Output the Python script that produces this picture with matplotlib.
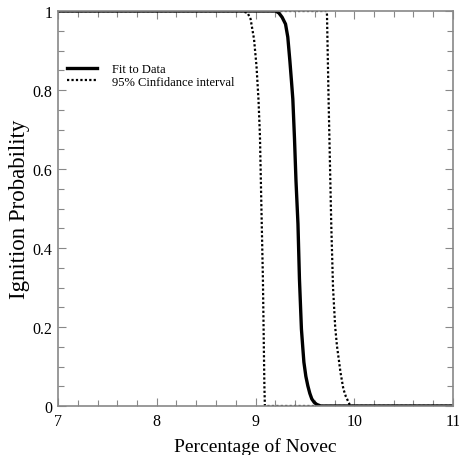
import numpy as np
import matplotlib.pyplot as plt
from matplotlib.ticker import MultipleLocator

# データ
fit_x = [7.0, 9.15, 9.204, 9.237, 9.27, 9.304, 9.327, 9.348, 9.365, 9.378,
         9.395, 9.41, 9.43, 9.445, 9.465, 9.48, 9.49, 9.51, 9.53, 9.55,
         9.57, 9.595, 9.62, 9.66, 11.0]
fit_y = [1.0, 1.0, 1.0, 0.995, 0.984, 0.967, 0.934, 0.874, 0.82, 0.777,
         0.676, 0.57, 0.461, 0.322, 0.195, 0.144, 0.111, 0.075, 0.051, 0.032,
         0.018, 0.009, 0.004, 0.0, 0.0]

low_x = [7.0, 8.86, 8.92, 8.95, 8.985, 9.01, 9.03, 9.045, 9.06, 9.075,
         9.09, 9.095, 11.0]
low_y = [1.0, 1.0, 0.995, 0.98, 0.929, 0.861, 0.777, 0.684, 0.5, 0.322,
         0.05, 0.0, 0.0]

high_x = [7.0, 9.72, 9.724, 9.74, 9.767, 9.785, 9.807, 9.825, 9.845, 9.86,
          9.89, 9.915, 9.94, 9.96, 11.0]
high_y = [1.0, 1.0, 0.99, 0.777, 0.461, 0.30, 0.20, 0.152, 0.115, 0.086,
          0.043, 0.024, 0.011, 0.0, 0.0]

plt.rcParams['font.family'] = ['Liberation Serif', 'DejaVu Serif']

fig = plt.figure(figsize=(4.6, 4.56), dpi=100)
ax = fig.add_axes([58 / 460, 1 - 407 / 456, (453 - 58) / 460, (407 - 12) / 456])

ax.plot(fit_x, fit_y, color='black', lw=2.4, label='Fit to Data',
        solid_joinstyle='round')
ax.plot(low_x, low_y, color='black', lw=1.6, ls=(0, (1, 1)),
        label='95% Cinfidance interval')
ax.plot(high_x, high_y, color='black', lw=1.6, ls=(0, (1, 1)))

ax.set_xlim(7, 11)
ax.set_ylim(0, 1)
ax.xaxis.set_major_locator(MultipleLocator(1))
ax.xaxis.set_minor_locator(MultipleLocator(0.2))
ax.yaxis.set_major_locator(MultipleLocator(0.2))
ax.yaxis.set_minor_locator(MultipleLocator(0.05))
ax.yaxis.set_major_formatter(plt.FuncFormatter(lambda v, p: f'{v:g}'))
ax.tick_params(which='both', direction='in', top=True, right=True,
               color='#888888', labelsize=11.5)
ax.tick_params(which='major', length=6, width=0.8, pad=5)
ax.tick_params(axis='y', which='major', pad=4)
ax.tick_params(which='minor', length=4, width=0.8)
for s in ax.spines.values():
    s.set_color('#888888')
    s.set_linewidth(1.2)

ax.set_xlabel('Percentage of Novec', fontsize=14, labelpad=6)
ax.set_ylabel('Ignition Probability', fontsize=16.5)
ax.yaxis.set_label_coords(-0.07, 0.5)

ax.legend(loc='upper left', bbox_to_anchor=(67 / 460, 1 - 64 / 456),
          bbox_transform=fig.transFigure, frameon=False, borderpad=0,
          borderaxespad=0, fontsize=9, handlelength=2.4, handletextpad=1.2,
          labelspacing=0.05)

fig.savefig('out.png', dpi=100)
